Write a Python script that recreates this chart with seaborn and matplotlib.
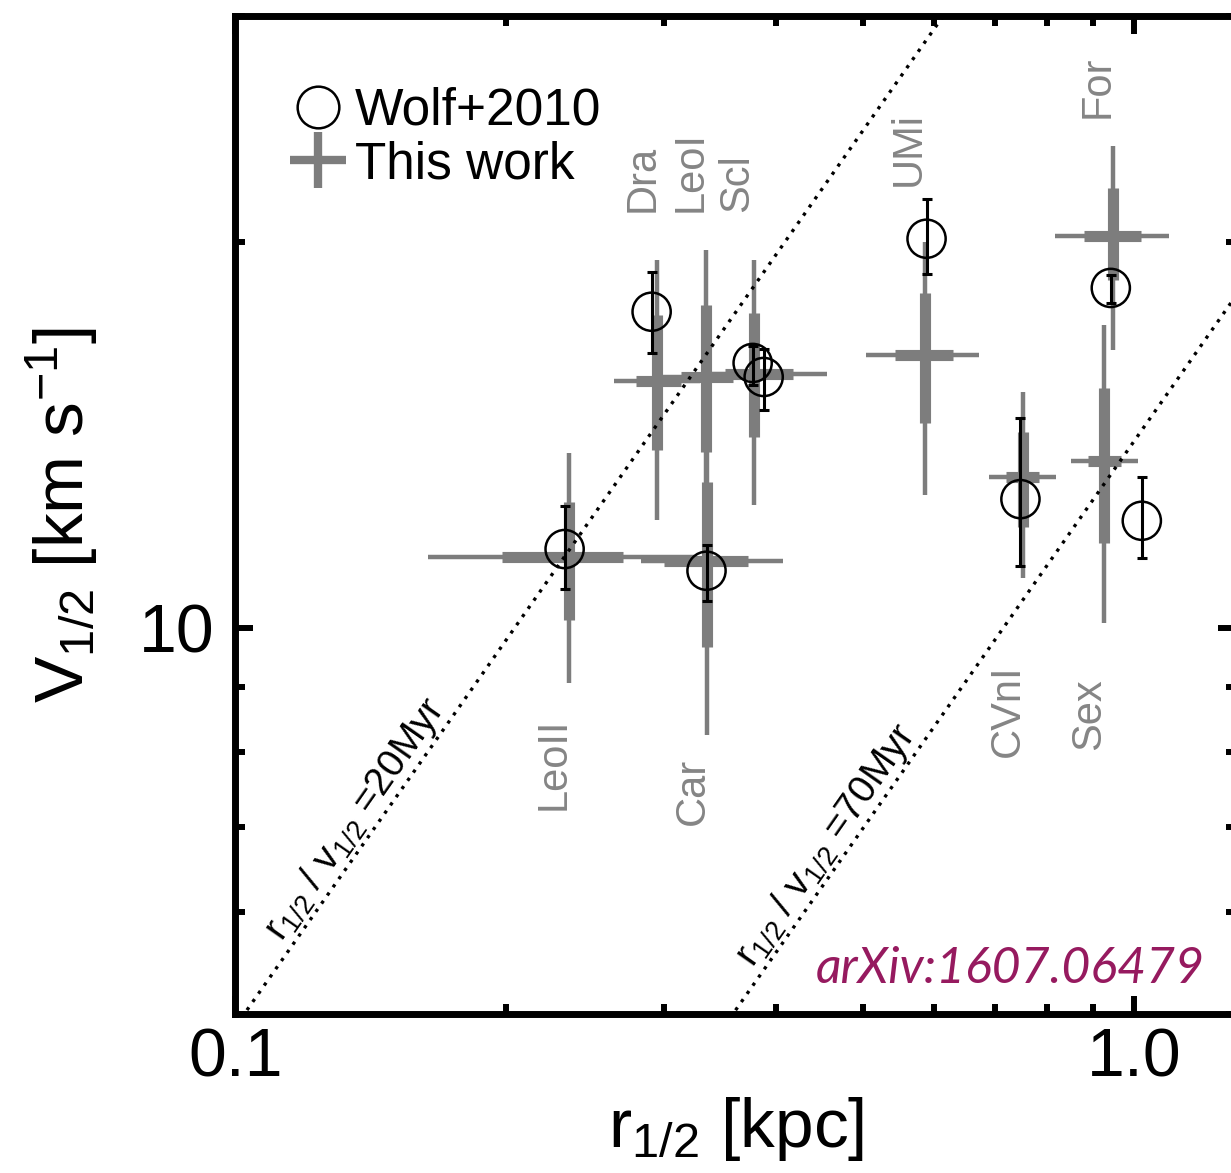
import numpy as np
import pandas as pd
import matplotlib
matplotlib.use("Agg")
import matplotlib.pyplot as plt
from matplotlib.lines import Line2D
from matplotlib.ticker import FixedLocator, FixedFormatter, NullFormatter, LogLocator
import seaborn as sns

# Wolf+2010 (open circles, black error bars)
wolf_r = [0.2325, 0.3345, 0.2906, 0.3765, 0.3873, 0.588, 0.943, 0.748, 1.021]
wolf_v = [11.52, 11.08, 17.64, 16.09, 15.69, 20.11, 18.41, 12.60, 12.12]
wolf_v_lo = [10.72, 10.50, 16.38, 15.47, 14.79, 18.88, 17.92, 11.18, 11.34]
wolf_v_hi = [12.45, 11.60, 18.95, 16.59, 16.50, 21.60, 18.84, 14.58, 13.11]

# This work (grey crosses: thick = inner interval, thin = outer interval)
tw_name = ["LeoII", "Car", "Dra", "LeoI", "Scl", "UMi", "For", "Sex", "CVnI"]
tw_r = [0.235, 0.3345, 0.295, 0.334, 0.3775, 0.585, 0.948, 0.926, 0.752]
tw_r_lo1 = [0.198, 0.300, 0.279, 0.313, 0.351, 0.543, 0.880, 0.889, 0.720]
tw_r_hi1 = [0.270, 0.372, 0.313, 0.358, 0.417, 0.629, 1.018, 0.967, 0.784]
tw_r_lo2 = [0.164, 0.2825, 0.264, 0.294, 0.334, 0.503, 0.817, 0.851, 0.690]
tw_r_hi2 = [0.324, 0.407, 0.329, 0.384, 0.456, 0.672, 1.094, 1.010, 0.819]
tw_v = [11.36, 11.28, 15.58, 15.69, 15.78, 16.32, 20.21, 13.49, 13.11]
tw_v_lo1 = [10.15, 9.67, 13.76, 13.71, 14.09, 14.45, 18.67, 11.65, 11.99]
tw_v_hi1 = [12.54, 12.99, 17.54, 17.85, 17.60, 18.24, 22.03, 15.39, 14.22]
tw_v_lo2 = [9.06, 8.25, 12.14, 12.58, 12.47, 12.70, 16.47, 10.09, 10.94]
tw_v_hi2 = [13.69, 14.79, 19.36, 19.71, 19.36, 20.00, 23.75, 17.22, 15.27]

# galaxy name labels
lab_name = ["Dra", "LeoI", "Scl", "UMi", "For", "LeoII", "Car", "CVnI", "Sex"]
lab_r = [0.284, 0.321, 0.362, 0.562, 0.912, 0.226, 0.323, 0.724, 0.893]
lab_v = [21.1, 21.1, 21.1, 22.1, 25.0, 8.51, 7.92, 9.36, 9.14]
lab_va = ["bottom"] * 5 + ["top"] * 4

# crossing-time lines r/v = t
ratio_myr = [20, 70]
ratio_label_r = [0.142, 0.475]
KPC_KMS_MYR = 977.8  # 1 kpc / (km/s) in Myr

sns.set_theme(style="ticks")
plt.rcParams["font.family"] = ["Liberation Sans", "DejaVu Sans"]
plt.rcParams["mathtext.fontset"] = "custom"
plt.rcParams["mathtext.rm"] = "Liberation Sans"
plt.rcParams["mathtext.it"] = "Liberation Sans:italic"
plt.rcParams["mathtext.bf"] = "Liberation Sans:bold"
plt.rcParams["text.color"] = "black"

fig = plt.figure(figsize=(12.31, 11.73), dpi=100)
ax = fig.add_axes([0.1913, 0.1356, 0.8128, 0.8508])
ax.set_xscale("log")
ax.set_yscale("log")
ax.set_xlim(0.1, 1.3)
ax.set_ylim(5, 30)

gray = "#7d7d7d"
tw = pd.DataFrame(dict(r=tw_r, v=tw_v, r_lo1=tw_r_lo1, r_hi1=tw_r_hi1, r_lo2=tw_r_lo2,
                       r_hi2=tw_r_hi2, v_lo1=tw_v_lo1, v_hi1=tw_v_hi1, v_lo2=tw_v_lo2, v_hi2=tw_v_hi2))

# outer (thin) and inner (thick) bars
ax.errorbar(tw.r, tw.v, xerr=[tw.r - tw.r_lo2, tw.r_hi2 - tw.r], yerr=[tw.v - tw.v_lo2, tw.v_hi2 - tw.v],
            fmt="none", ecolor=gray, elinewidth=3.2, capsize=0, zorder=2)
ax.errorbar(tw.r, tw.v, xerr=[tw.r - tw.r_lo1, tw.r_hi1 - tw.r], yerr=[tw.v - tw.v_lo1, tw.v_hi1 - tw.v],
            fmt="none", ecolor=gray, elinewidth=8, capsize=0, zorder=2)

# dotted lines r/v = const
r_line = np.array([0.1, 1.3])
for t, r_anchor in zip(ratio_myr, ratio_label_r):
    ax.plot(r_line, r_line * KPC_KMS_MYR / t, color="black", lw=2.4, linestyle=(0, (1, 2.0)), zorder=3)
    p1 = ax.transData.transform((0.2, 0.2 * KPC_KMS_MYR / t))
    p2 = ax.transData.transform((0.4, 0.4 * KPC_KMS_MYR / t))
    ang = np.degrees(np.arctan2(p2[1] - p1[1], p2[0] - p1[0]))
    ax.text(r_anchor, r_anchor * KPC_KMS_MYR / t,
            r"$\mathregular{r_{1/2}}$ / $\mathregular{v_{1/2}}$ =" + f"{t}Myr",
            rotation=ang, rotation_mode="anchor", ha="center", va="bottom", fontsize=28, zorder=3)

# Wolf+2010
ax.errorbar(wolf_r, wolf_v, yerr=[np.subtract(wolf_v, wolf_v_lo), np.subtract(wolf_v_hi, wolf_v)],
            fmt="none", ecolor="black", elinewidth=2.2, capsize=3.4, capthick=2.2, zorder=4)
sns.scatterplot(x=wolf_r, y=wolf_v, ax=ax, marker="o", s=27.5 ** 2, facecolor="none",
                edgecolor="black", linewidth=1.8, zorder=5)

# galaxy names
for name, r, v, va in zip(lab_name, lab_r, lab_v, lab_va):
    ax.text(r, v, name, rotation=90, ha="center", va=va, fontsize=30, color="#858585")

# legend
handles = [Line2D([], [], marker="o", ls="none", mfc="none", mec="black", ms=30, mew=1.8),
           Line2D([], [], marker="+", ls="none", color=gray, ms=40, mew=6)]
ax.legend(handles, ["Wolf+2010", "This work"], loc="upper left", bbox_to_anchor=(0.057, 0.929),
          frameon=False, fontsize=37, handlelength=1.0, handletextpad=0.22, labelspacing=0.09,
          borderpad=0, borderaxespad=0, labelcolor="black")

ax.text(0.969, 0.031, "arXiv:1607.06479", transform=ax.transAxes, ha="right", va="baseline",
        fontsize=36, style="italic", family="Lato", color="#961a5f")

# axes styling
ax.xaxis.set_major_locator(FixedLocator([0.1, 1.0]))
ax.xaxis.set_major_formatter(FixedFormatter(["0.1", "1.0"]))
ax.yaxis.set_major_locator(FixedLocator([10]))
ax.yaxis.set_major_formatter(FixedFormatter(["10"]))
for axis in (ax.xaxis, ax.yaxis):
    axis.set_minor_locator(LogLocator(base=10, subs=np.arange(2, 10), numticks=20))
    axis.set_minor_formatter(NullFormatter())

ax.tick_params(which="both", direction="in", top=True, right=True, width=4.3, color="black",
               labelcolor="black")
ax.tick_params(which="major", length=13)
ax.tick_params(which="minor", length=7)
ax.tick_params(axis="x", which="major", labelsize=49, pad=9)
ax.tick_params(axis="y", which="major", labelsize=49, pad=15)
for s in ax.spines.values():
    s.set_linewidth(5)
    s.set_color("black")

ax.set_xlabel(r"$\mathregular{r_{1/2}}$ [kpc]", fontsize=50, color="black")
ax.set_ylabel(r"$\mathregular{V_{1/2}}$ [km s$\mathregular{^{-1}}$]", fontsize=50, color="black")
ax.xaxis.set_label_coords(0.5, -0.081)
ax.yaxis.set_label_coords(-0.135, 0.5)

fig.savefig("out.png", dpi=100)
